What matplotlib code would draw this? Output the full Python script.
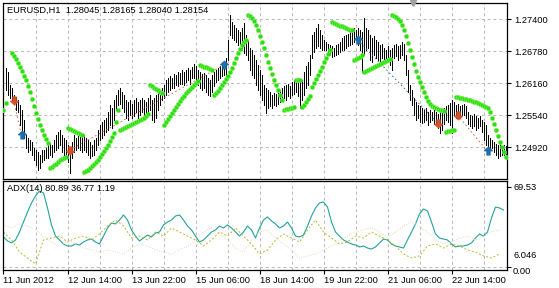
import numpy as np
import matplotlib
matplotlib.use("Agg")
import matplotlib.pyplot as plt
from matplotlib.path import Path

plt.rcParams['font.family'] = ['Liberation Sans', 'DejaVu Sans']
plt.rcParams['font.size'] = 6.7

# ---- data (prices in 1e-4 units) ----
title = "EURUSD,H1  1.28045 1.28165 1.28040 1.28154"
adx_title = "ADX(14) 80.89 36.77 1.19"

high = [12649, 12645, 12637, 12612, 12606, 12593, 12589, 12583, 12573, 12564,
        12544, 12515, 12510, 12506, 12502, 12490, 12486, 12482, 12477, 12486,
        12486, 12490, 12496, 12500, 12496, 12506, 12515, 12521, 12525, 12515,
        12510, 12506, 12496, 12490, 12502, 12515, 12510, 12515, 12521, 12513,
        12515, 12510, 12506, 12502, 12496, 12506, 12510, 12525, 12535, 12540,
        12544, 12548, 12560, 12573, 12567, 12583, 12593, 12603, 12606, 12599,
        12593, 12583, 12579, 12583, 12575, 12583, 12587, 12579, 12583, 12587,
        12583, 12579, 12587, 12593, 12583, 12587, 12593, 12599, 12603, 12606,
        12612, 12622, 12626, 12630, 12626, 12633, 12631, 12637, 12635, 12641,
        12637, 12641, 12645, 12641, 12647, 12653, 12649, 12641, 12637, 12633,
        12635, 12631, 12626, 12622, 12631, 12637, 12641, 12645, 12649, 12653,
        12657, 12664, 12700, 12748, 12734, 12728, 12723, 12719, 12715, 12723,
        12732, 12709, 12700, 12684, 12680, 12670, 12661, 12651, 12641, 12631,
        12612, 12606, 12603, 12599, 12593, 12597, 12595, 12599, 12603, 12606,
        12610, 12612, 12614, 12610, 12618, 12622, 12622, 12626, 12618, 12622,
        12637, 12649, 12657, 12670, 12709, 12715, 12723, 12730, 12719, 12709,
        12700, 12696, 12692, 12690, 12688, 12684, 12690, 12692, 12696, 12703,
        12707, 12709, 12711, 12719, 12715, 12723, 12719, 12723, 12719, 12715,
        12742, 12723, 12719, 12709, 12703, 12707, 12700, 12696, 12690, 12692,
        12684, 12680, 12688, 12680, 12684, 12690, 12692, 12688, 12690, 12696,
        12692, 12670, 12641, 12612, 12603, 12587, 12579, 12573, 12571, 12567,
        12564, 12567, 12560, 12564, 12560, 12564, 12560, 12556, 12560, 12564,
        12567, 12571, 12573, 12577, 12583, 12579, 12573, 12575, 12571, 12573,
        12575, 12571, 12560, 12554, 12552, 12556, 12552, 12548, 12552, 12544,
        12540, 12535, 12515, 12510, 12506, 12502, 12498, 12496, 12498, 12494,
        12496, 12494]
low = [12612, 12603, 12593, 12587, 12583, 12575, 12564, 12560, 12535, 12525,
       12510, 12490, 12482, 12486, 12477, 12467, 12457, 12448, 12451, 12463,
       12467, 12471, 12471, 12477, 12473, 12482, 12486, 12490, 12496, 12482,
       12477, 12471, 12463, 12442, 12471, 12482, 12486, 12490, 12486, 12482,
       12486, 12482, 12477, 12471, 12475, 12477, 12486, 12496, 12506, 12510,
       12515, 12521, 12525, 12535, 12529, 12544, 12564, 12573, 12575, 12567,
       12560, 12548, 12544, 12554, 12548, 12552, 12560, 12548, 12554, 12560,
       12554, 12548, 12560, 12564, 12544, 12540, 12548, 12564, 12573, 12583,
       12587, 12593, 12599, 12603, 12606, 12606, 12612, 12610, 12614, 12614,
       12612, 12618, 12622, 12614, 12626, 12626, 12622, 12612, 12606, 12603,
       12606, 12599, 12593, 12591, 12599, 12610, 12618, 12622, 12626, 12630,
       12631, 12628, 12661, 12709, 12703, 12700, 12696, 12690, 12692, 12680,
       12674, 12670, 12661, 12641, 12631, 12626, 12612, 12603, 12593, 12583,
       12573, 12558, 12567, 12571, 12567, 12573, 12571, 12575, 12579, 12583,
       12587, 12583, 12591, 12587, 12593, 12595, 12599, 12591, 12567, 12583,
       12593, 12606, 12612, 12631, 12665, 12676, 12684, 12688, 12684, 12680,
       12680, 12680, 12676, 12670, 12667, 12668, 12670, 12672, 12676, 12680,
       12680, 12684, 12688, 12690, 12692, 12696, 12700, 12690, 12680, 12637,
       12670, 12680, 12684, 12661, 12657, 12670, 12665, 12661, 12657, 12665,
       12661, 12657, 12665, 12651, 12641, 12665, 12669, 12661, 12665, 12670,
       12661, 12631, 12599, 12583, 12573, 12554, 12544, 12548, 12540, 12538,
       12540, 12544, 12535, 12540, 12544, 12536, 12535, 12529, 12519, 12525,
       12536, 12544, 12540, 12535, 12519, 12554, 12548, 12552, 12548, 12554,
       12554, 12548, 12536, 12533, 12529, 12533, 12525, 12529, 12533, 12521,
       12506, 12496, 12490, 12486, 12490, 12482, 12477, 12471, 12475, 12477,
       12477, 12479]

# parabolic SAR dots, one per bar (None = no dot)
sar = [12564, 12577, None, None,
       12674, 12669, 12663, 12655, 12647, 12639, 12630, 12622, 12610, 12599,
       12585, 12572, 12558, 12546, 12535, 12525, 12515, 12508, 12500,
       12452, 12453, 12457, 12459, 12463, 12467, 12469, 12471, 12473,
       12529, 12527, 12525, 12523, 12521, 12519, 12517, 12515,
       12444, 12446, 12448, 12452, 12455, 12459, 12463, 12467, 12473, 12479,
       12484, 12490, 12496, 12504, 12512, 12519, 12541, 12564,
       12525, 12527, 12529, 12531, 12533, 12535, 12537, 12539, 12541, 12543,
       12544, 12546, 12548, 12552, 12556,
       12612, 12610, 12606, 12604, 12603, 12599, 12597,
       12535, 12541, 12546, 12552, 12558, 12564, 12570, 12575, 12581, 12587,
       12591, 12597, 12601, 12605, 12608, 12612, 12616, 12620,
       12651, 12649, 12647, 12647, 12645, 12643, 12641,
       12593, 12597, 12601, 12606, 12612, 12618, 12624, 12630,
       12637, 12645, 12655, 12665, 12674, 12682, 12690, 12696, 12700,
       12748, 12746, 12742, 12736, 12729, 12719, 12707, 12696, 12684, 12670,
       12657, 12645, 12634, 12622, 12612, 12603, 12593, 12583,
       12564, 12566, 12566, 12568, 12568, 12570,
       12622, 12622, 12622,
       12570, 12574, 12579, 12585, 12591,
       12608, 12616, 12624, 12632, 12639, 12647, 12657, 12665, 12672, 12680,
       12734, 12732, 12730, 12729, 12727, 12727, 12725, 12723, 12721, 12719, 12719,
       12661, 12663, 12665, 12667, 12670,
       12637, 12639, 12641, 12643, 12645, 12647, 12649, 12651, 12653, 12655,
       12657, 12659, 12661, 12663,
       12748, 12746, 12744, 12740, 12736, 12729, 12719, 12707, 12694, 12680,
       12666, 12653, 12639, 12628, 12618, 12608, 12599, 12589, 12581, 12575,
       12572, 12570, 12568, 12566, 12564, 12564, 12562,
       12521, 12523, 12523, 12525, 12525,
       12589, 12589, 12587, 12587, 12585, 12585, 12583, 12583, 12581, 12579,
       12579, 12577, 12575, 12574, 12572, 12570, 12568,
       12560, 12548, 12537, 12525, 12514, 12502, 12492, 12482, 12473]

sell_bars = [5, 33, 217, 227]
sell_vals = [12583, 12486, 12539, 12554]
buy_bars = [9, 110, 177, 242]
buy_vals = [12515, 12651, 12700, 12484]

# ADX every 2 bars, +DI / -DI every 4 bars
adx = [26.1, 22.6, 20.9, 23.5, 30.4, 39.1, 47.8, 55.6, 61.7, 66.0,
       64.3, 51.3, 36.5, 26.9, 23.5, 20.0, 18.2, 18.2, 20.0, 19.1,
       21.7, 23.5, 24.3, 21.7, 20.0, 26.9, 33.9, 38.2, 37.4, 40.8,
       45.2, 40.8, 32.2, 26.9, 22.6, 25.2, 27.8, 26.1, 29.5, 30.4,
       36.5, 39.1, 40.8, 44.3, 45.2, 40.8, 35.6, 32.2, 26.9, 21.7,
       23.5, 26.9, 30.4, 32.2, 35.6, 33.9, 36.5, 33.9, 30.4, 26.9,
       30.4, 35.6, 32.2, 25.2, 33.9, 40.8, 43.5, 40.0, 37.4, 33.9,
       35.6, 39.1, 33.9, 26.9, 26.1, 27.8, 35.6, 44.3, 51.3, 55.6,
       56.5, 52.1, 39.1, 30.4, 26.9, 23.5, 21.7, 20.0, 19.1, 17.4,
       18.2, 16.5, 15.6, 17.4, 20.9, 24.3, 23.5, 20.0, 18.2, 17.4,
       16.5, 23.5, 30.4, 37.4, 46.1, 50.4, 48.7, 39.1, 28.7, 25.2,
       24.3, 23.5, 20.0, 17.4, 18.2, 18.2, 19.1, 20.9, 25.2, 28.7,
       26.9, 30.4, 42.6, 52.1, 51.3, 49.5]
plus_di = [30.4, 23.5, 13.0, 7.8, 2.6, 23.5, 25.2, 26.9, 21.7, 25.2,
           26.9, 23.5, 28.7, 35.6, 40.8, 35.6, 25.2, 26.9, 23.5, 30.4,
           26.9, 33.9, 30.4, 26.9, 23.5, 18.2, 23.5, 30.4, 26.9, 33.9,
           26.9, 20.0, 11.3, 14.8, 23.5, 28.7, 25.2, 21.7, 32.2, 40.8,
           30.4, 25.2, 20.0, 21.7, 26.9, 25.2, 30.4, 26.9, 23.5, 18.2,
           11.3, 7.8, 9.6, 18.2, 20.0, 16.5, 20.0, 18.2, 14.8, 13.0,
           9.6, 7.8, 11.3]
minus_di = [36.5, 33.9, 37.4, 35.6, 32.2, 26.9, 21.7, 18.2, 23.5, 20.0,
            16.5, 14.8, 13.0, 14.8, 13.0, 11.3, 16.5, 20.0, 18.2, 14.8,
            13.0, 11.3, 14.8, 18.2, 23.5, 30.4, 33.9, 28.7, 23.5, 16.5,
            13.0, 23.5, 30.4, 32.2, 25.2, 20.0, 14.8, 7.8, 9.6, 11.3,
            14.8, 18.2, 23.5, 26.9, 30.4, 32.2, 33.9, 30.4, 25.2, 30.4,
            35.6, 39.1, 35.6, 30.4, 23.5, 20.0, 21.7, 25.2, 26.9, 23.5,
            26.9, 30.4, 32.2]

price_ticks = [1.27400, 1.26780, 1.26160, 1.25540, 1.24920]
date_bars = [0, 32, 64, 96, 128, 160, 192, 224]
date_labels = ["11 Jun 2012", "12 Jun 14:00", "13 Jun 22:00", "15 Jun 06:00",
               "18 Jun 14:00", "19 Jun 22:00", "21 Jun 06:00", "22 Jun 14:00"]

# ---- figure ----
W, H = 559, 288
fig = plt.figure(figsize=(W / 100, H / 100), dpi=100)
ax = fig.add_axes([3 / W, 1 - 179 / H, 504 / W, 176 / H])
ax2 = fig.add_axes([3 / W, 1 - 270 / H, 504 / W, 89 / H])

bars = np.arange(len(high))
hi = np.array(high) / 1e4
lo = np.array(low) / 1e4
sar_v = np.array([np.nan if v is None else v for v in sar], dtype=float) / 1e4

grid_kw = dict(color='#b8b8b8', lw=0.7, ls=(0, (3, 3)), zorder=0)
for a in (ax, ax2):
    for b in range(16, 252, 16):
        a.axvline(b, **grid_kw)
    a.set_xlim(-0.25, 251.75)
    for s in a.spines.values():
        s.set_color('black')
        s.set_linewidth(0.9)
for p in price_ticks:
    ax.axhline(p, **grid_kw)

ax.vlines(bars, lo, hi, color='black', lw=0.72, antialiased=False, zorder=2)
ax.plot(bars, sar_v, 'o', ms=3.1, color='#22e01c', mec='#8af04a', mew=0.4, zorder=3)

# signal arrows + connecting lines
up = Path([(-0.5, 0.1), (0, 0.55), (0.5, 0.1), (0.2, 0.1), (0.2, -0.45),
           (-0.2, -0.45), (-0.2, 0.1), (-0.5, 0.1)], closed=True)
down = Path([(x, -y) for x, y in up.vertices], closed=True)
sv = np.array(sell_vals) / 1e4
bv = np.array(buy_vals) / 1e4
ax.plot(sell_bars, sv, ls='none', marker=down, ms=6, color='#d4522a', zorder=4)
ax.plot(buy_bars, bv, ls='none', marker=up, ms=6, color='#1f6ea8', zorder=4)
link_red = dict(color='#c0603a', lw=0.6, ls=(0, (2, 3)), zorder=2)
ax.plot([sell_bars[0], buy_bars[0]], [sv[0], bv[0]], **link_red)
ax.plot([sell_bars[1], buy_bars[1]], [sv[1], bv[1]], **link_red)
ax.plot([sell_bars[3], buy_bars[3]], [sv[3], bv[3]], **link_red)
ax.plot([buy_bars[2], sell_bars[2]], [bv[2], sv[2]], color='#1f6ea8', lw=0.6,
        ls=(0, (2, 3)), zorder=2)

ax.set_ylim(1.24302, 1.27712)
ax.yaxis.tick_right()
ax.set_yticks(price_ticks)
ax.set_yticklabels([f"{p:.5f}" for p in price_ticks])
ax.tick_params(axis='y', length=3, width=0.8, pad=2, labelsize=6.7)
ax.set_xticks([])
ax.text(0.008, 0.985, title, transform=ax.transAxes, ha='left', va='top', fontsize=6.7)
ax.plot([204.5], [1.0], transform=ax.get_xaxis_transform(), marker='v', ms=4,
        color='#a0a0a0', clip_on=False, zorder=5)

# ADX window
ax2.plot(np.arange(len(adx)) * 2, adx, color='#1fa39a', lw=0.8)
ax2.plot(np.arange(len(plus_di)) * 4, plus_di, color='#b8b832', lw=0.7, ls=(0, (2, 2)))
ax2.plot(np.arange(len(minus_di)) * 4, minus_di, color='#e8d6bc', lw=0.7, ls=(0, (1, 1.5)))
ax2.axhline(0, **grid_kw)
ax2.set_ylim(-2.6, 74.7)
ax2.yaxis.tick_right()
ax2.set_yticks([69.53, 0])
ax2.set_yticklabels(["69.53", ""])
ax2.tick_params(axis='y', length=3, width=0.8, pad=2, labelsize=6.7)
# the two bottom scale labels sit almost on top of each other in the terminal
ax2.text(1.012, 6.046, "6.046", transform=ax2.get_yaxis_transform(), ha='left',
         va='bottom', fontsize=6.7)
ax2.text(1.012, 0, "0.00", transform=ax2.get_yaxis_transform(), ha='left',
         va='top', fontsize=6.7)
ax2.set_xticks(date_bars)
ax2.set_xticklabels(date_labels, ha='left')
ax2.tick_params(axis='x', length=3, width=0.8, pad=1.5, labelsize=6.7)
ax2.text(0.008, 0.97, adx_title, transform=ax2.transAxes, ha='left', va='top', fontsize=6.7)

fig.savefig("out.png", dpi=100)
